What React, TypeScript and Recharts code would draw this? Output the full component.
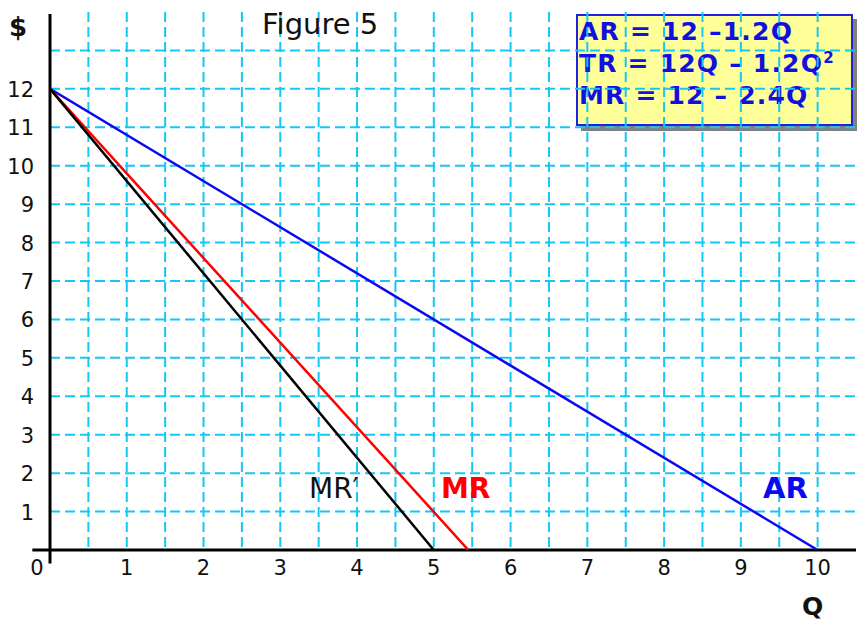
import * as React from "react";
import {
  LineChart,
  Line,
  XAxis,
  YAxis,
  CartesianGrid,
  ReferenceLine,
} from "recharts";

// AR, MR and MR' lines (Q, $)
const arQ = [0, 10];
const arP = [12, 0];
const mrQ = [0, 5.45];
const mrP = [12, 0];
const mrPrimeQ = [0, 5];
const mrPrimeP = [12, 0];

const xTicks = [0, 1, 2, 3, 4, 5, 6, 7, 8, 9, 10];
const yTicks = [1, 2, 3, 4, 5, 6, 7, 8, 9, 10, 11, 12];
const gridY = [1, 2, 3, 4, 5, 6, 7, 8, 9, 10, 11, 12, 13];
const gridX = [
  0.5, 1, 1.5, 2, 2.5, 3, 3.5, 4, 4.5, 5, 5.5, 6, 6.5, 7, 7.5, 8, 8.5, 9,
  9.5, 10,
];

const FONT = "'DejaVu Sans', Verdana, sans-serif";
const GRID = "#14c8f5";

const toPoints = (q: number[], p: number[]) =>
  q.map((v, i) => ({ q: v, p: p[i] }));

const XTick = (props: any) => {
  const { x, y, payload } = props;
  const v = payload.value;
  return (
    <text
      x={v === 0 ? x - 13 : x}
      y={y + 17}
      textAnchor="middle"
      fontFamily={FONT}
      fontSize={21}
      fill="#111"
    >
      {v}
    </text>
  );
};

const YTick = (props: any) => {
  const { y, payload } = props;
  return (
    <text
      x={34}
      y={y + 8}
      textAnchor="end"
      fontFamily={FONT}
      fontSize={21}
      fill="#111"
    >
      {payload.value}
    </text>
  );
};

const label = (
  left: number,
  top: number,
  color: string,
  bold: boolean,
  size: number
): React.CSSProperties => ({
  position: "absolute",
  left,
  top,
  color,
  fontWeight: bold ? "bold" : "normal",
  fontSize: size,
  fontFamily: FONT,
  lineHeight: 1,
  whiteSpace: "nowrap",
});

export default function App() {
  return (
    <div
      style={{
        position: "absolute",
        left: 0,
        top: 0,
        width: 857,
        height: 620,
        background: "#fff",
        overflow: "hidden",
      }}
    >
      {/* equation box, sits under the grid */}
      <div
        style={{
          position: "absolute",
          left: 576,
          top: 14,
          width: 272,
          height: 108,
          background: "#ffff99",
          border: "2px solid #2222dd",
          boxShadow: "5px 5px 0 #808080",
          color: "#1010e0",
          fontFamily: FONT,
          fontWeight: "bold",
          fontSize: 25,
          letterSpacing: 1.2,
          lineHeight: "32px",
          paddingLeft: 1,
          paddingTop: 0,
        }}
      >
        <div>AR = 12 –1.2Q</div>
        <div>
          TR = 12Q – 1.2Q
          <sup style={{ fontSize: 15, lineHeight: 0, verticalAlign: 9 }}>2</sup>
        </div>
        <div>MR = 12 – 2.4Q</div>
      </div>

      <div style={{ position: "absolute", left: 0, top: 0 }}>
        <LineChart
          width={857}
          height={620}
          margin={{ top: 12, right: 1, bottom: 40, left: 10 }}
        >
          <CartesianGrid
            stroke={GRID}
            strokeWidth={2}
            strokeDasharray="10 5"
            horizontalValues={gridY}
            verticalValues={gridX}
          />
          <XAxis
            type="number"
            dataKey="q"
            domain={[0, 10.5]}
            ticks={xTicks}
            height={30}
            axisLine={false}
            tickLine={false}
            tick={<XTick />}
            allowDataOverflow
          />
          <YAxis
            type="number"
            dataKey="p"
            domain={[0, 14]}
            ticks={yTicks}
            width={40}
            axisLine={false}
            tickLine={false}
            tick={<YTick />}
            allowDataOverflow
          />
          <ReferenceLine
            segment={[
              { x: -0.23, y: 0 },
              { x: 10.5, y: 0 },
            ]}
            stroke="#000"
            strokeWidth={3}
            ifOverflow="visible"
          />
          <ReferenceLine
            segment={[
              { x: 0, y: -0.35 },
              { x: 0, y: 13.95 },
            ]}
            stroke="#000"
            strokeWidth={3}
            ifOverflow="visible"
          />
          <Line
            data={toPoints(arQ, arP)}
            dataKey="p"
            type="linear"
            stroke="#0a0af0"
            strokeWidth={2.5}
            dot={false}
            isAnimationActive={false}
          />
          <Line
            data={toPoints(mrQ, mrP)}
            dataKey="p"
            type="linear"
            stroke="#ff0000"
            strokeWidth={2.5}
            dot={false}
            isAnimationActive={false}
          />
          <Line
            data={toPoints(mrPrimeQ, mrPrimeP)}
            dataKey="p"
            type="linear"
            stroke="#000"
            strokeWidth={2.5}
            dot={false}
            isAnimationActive={false}
          />
        </LineChart>
      </div>

      <div style={label(9, 14, "#111", true, 26)}>$</div>
      <div style={label(262, 10, "#111", false, 29)}>Figure 5</div>
      <div style={label(309, 475, "#111", false, 28)}>MR′</div>
      <div style={label(441, 475, "#ff0000", true, 28)}>MR</div>
      <div style={label(763, 474, "#0a0af0", true, 29)}>AR</div>
      <div style={label(802, 594, "#111", true, 25)}>Q</div>
    </div>
  );
}
